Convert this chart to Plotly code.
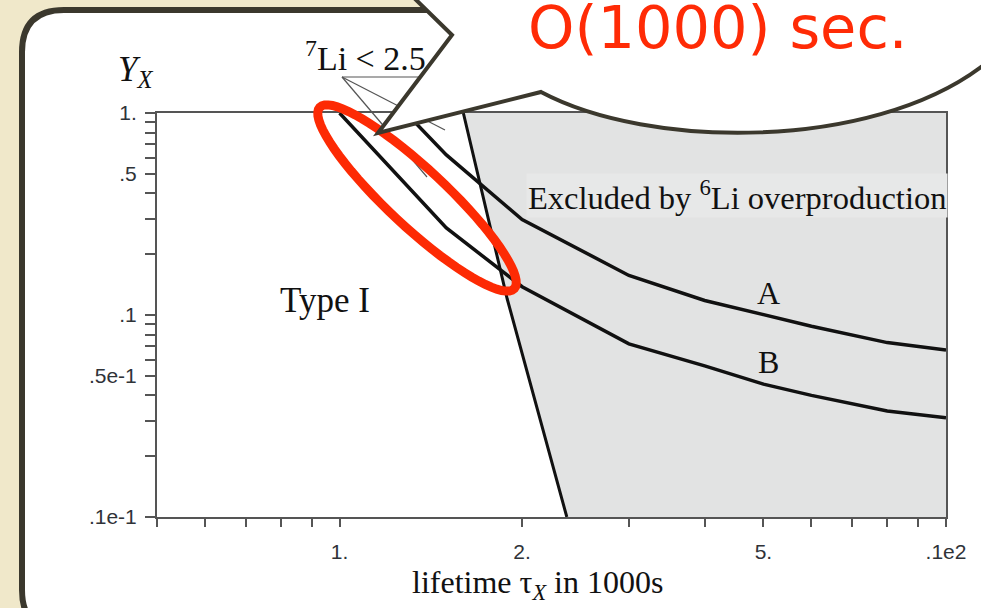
import math
import plotly.graph_objects as go

# ---- constraint curves (lifetime in 1000 s, abundance Y_X) ----
tau_A = [1.0, 1.5, 2.0, 3.0, 4.0, 5.0, 6.0, 8.0, 10.0]
Y_A = [2.2, 0.62, 0.297, 0.157, 0.118, 0.100, 0.088, 0.073, 0.067]

tau_B = [1.0, 1.5, 2.0, 3.0, 4.0, 5.0, 6.0, 8.0, 10.0]
Y_B = [1.0, 0.27, 0.138, 0.072, 0.056, 0.0455, 0.040, 0.0335, 0.031]

# boundary of the 6Li-excluded region
tau_edge = [1.6, 1.89, 2.37]
Y_edge = [1.0, 0.12, 0.01]

# axis ticks
x_tickvals = [0.5, 0.6, 0.7, 0.8, 0.9, 1, 2, 3, 4, 5, 6, 7, 8, 9, 10]
x_ticktext = ["", "", "", "", "", "1.", "2.", "", "", "5.", "", "", "", "", ".1e2"]
y_tickvals = [0.01, 0.02, 0.03, 0.04, 0.05, 0.06, 0.07, 0.08, 0.09,
              0.1, 0.2, 0.3, 0.4, 0.5, 0.6, 0.7, 0.8, 0.9, 1.0]
y_ticktext = [".1e-1", "", "", "", ".5e-1", "", "", "", "",
              ".1", "", "", "", ".5", "", "", "", "", "1."]

W_FIG, H_FIG = 981, 608
L, T, PW, PH = 157, 113, 789, 404


def pp(px, py):
    """pixel position -> paper coordinates"""
    return (px - L) / PW, (T + PH - py) / PH


def path_from(cmds):
    out = []
    for c in cmds:
        if isinstance(c, str):
            out.append(c)
        else:
            x, y = pp(*c)
            out.append(f"{x:.5f},{y:.5f}")
    return " ".join(out)


SERIF = "Liberation Serif, Times New Roman, serif"
SANS = "Liberation Sans, Arial, sans-serif"
INK = "#111111"

fig = go.Figure()

# shaded excluded region
fig.add_trace(go.Scatter(
    x=tau_edge + [tau_B[-1], tau_B[-1]],
    y=Y_edge + [Y_edge[-1], Y_edge[0]],
    fill="toself", fillcolor="#e2e3e3", line=dict(width=0),
    mode="lines", hoverinfo="skip", showlegend=False))

fig.add_trace(go.Scatter(x=tau_edge, y=Y_edge, mode="lines",
                         line=dict(color=INK, width=3), showlegend=False))
fig.add_trace(go.Scatter(x=tau_A, y=Y_A, mode="lines",
                         line=dict(color=INK, width=3.5), showlegend=False))
fig.add_trace(go.Scatter(x=tau_B, y=Y_B, mode="lines",
                         line=dict(color=INK, width=3.5), showlegend=False))

axis_common = dict(
    type="log", showgrid=False, zeroline=False,
    showline=True, linecolor="#555555", linewidth=2, mirror=True,
    ticks="outside", tickcolor="#555555", tickwidth=2,
    tickfont=dict(family=SANS, size=21, color="#2f3338"),
)

fig.update_xaxes(range=[math.log10(0.5), 1], tickvals=x_tickvals,
                 ticktext=x_ticktext, ticklen=8, ticklabelstandoff=7,
                 **axis_common)
fig.update_yaxes(range=[-2, 0], tickvals=y_tickvals, ticktext=y_ticktext,
                 ticklen=10, ticklabelstandoff=4, **axis_common)

shapes = []

# slide panel with rounded corners
panel = path_from(["M", (64, 632), "Q", (22, 632), (22, 590), "L", (22, 52),
                   "Q", (22, 10), (64, 10), "L", (1010, 10), "L", (1010, 632), "Z"])
shapes.append(dict(type="path", xref="paper", yref="paper", path=panel,
                   fillcolor="white", line=dict(color="#3b382d", width=6),
                   layer="below"))

# leader lines of the 7Li label
for a, b in [((342, 77), (460, 77)), ((342, 77), (445, 130)), ((342, 77), (427, 177))]:
    x0, y0 = pp(*a)
    x1, y1 = pp(*b)
    shapes.append(dict(type="line", xref="paper", yref="paper",
                       x0=x0, y0=y0, x1=x1, y1=y1,
                       line=dict(color="#555555", width=1.2), layer="above"))

# red highlight ellipse
cx, cy, ea, eb, ang = 417, 198, 133, 29, math.radians(43)
pts = []
for i in range(73):
    t = 2 * math.pi * i / 72
    px = cx + ea * math.cos(t) * math.cos(ang) - eb * math.sin(t) * math.sin(ang)
    py = cy + ea * math.cos(t) * math.sin(ang) + eb * math.sin(t) * math.cos(ang)
    pts.append(pp(px, py))
ell = "M " + " L ".join(f"{x:.5f},{y:.5f}" for x, y in pts) + " Z"
shapes.append(dict(type="path", xref="paper", yref="paper", path=ell,
                   line=dict(color="#fd2a04", width=9), layer="above"))

# speech bubble
bubble = path_from(["M", (408, -8), "L", (452, 35), "L", (378, 133), "L", (541, 92),
                    "C", (650, 150), (870, 150), (981, 67), "L", (995, 60),
                    "L", (995, -8), "Z"])
shapes.append(dict(type="path", xref="paper", yref="paper", path=bubble,
                   fillcolor="white", line=dict(color="#3b382d", width=4),
                   layer="above"))

fig.update_layout(shapes=shapes)


def note(text, px, py, size, family=SERIF, color="#111111", xanchor="center",
         bgcolor=None):
    x, y = pp(px, py)
    d = dict(text=text, x=x, y=y, xref="paper", yref="paper", showarrow=False,
             xanchor=xanchor, yanchor="middle",
             font=dict(family=family, size=size, color=color))
    if bgcolor:
        d["bgcolor"] = bgcolor
    fig.add_annotation(**d)


note("Type I", 325, 300, 35)
note("Excluded by <sup>6</sup>Li overproduction", 737, 195, 32.5, bgcolor="#e7e8e8")
note("A", 768, 293, 32)
note("B", 768, 362, 32)
note("<i>Y<sub>X</sub></i>", 135, 72, 35)
note("<sup>7</sup>Li < 2.5", 303, 56, 34, xanchor="left")
note("lifetime τ<sub><i>X</i></sub> in 1000s", 537, 584, 32)
note("O(1000) sec.", 718, 27, 59, family="Comic Sans MS, DejaVu Sans, sans-serif",
     color="#ff2b06")

fig.update_layout(
    width=W_FIG, height=H_FIG,
    margin=dict(l=L, r=W_FIG - L - PW, t=T, b=H_FIG - T - PH, pad=0),
    paper_bgcolor="#f0e8ca", plot_bgcolor="white",
    showlegend=False,
)

fig.write_html("out.html")
